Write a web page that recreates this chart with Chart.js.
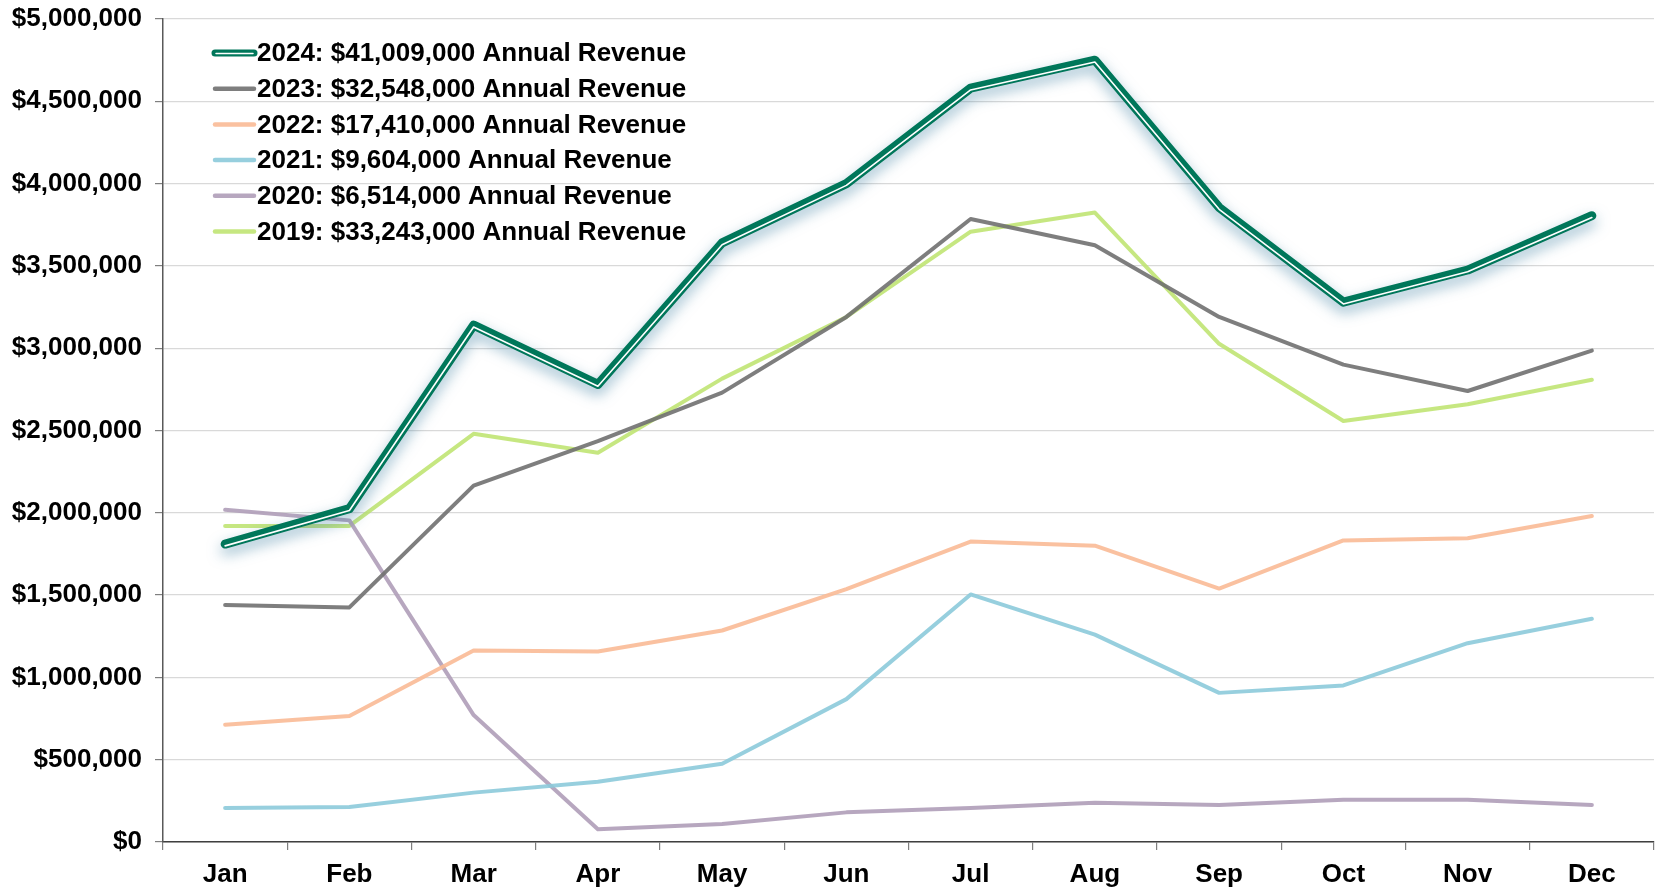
<!DOCTYPE html>
<html>
<head>
<meta charset="utf-8">
<script src="https://cdn.jsdelivr.net/npm/chart.js@4/dist/chart.umd.min.js"></script>
<style>
html,body{margin:0;padding:0;background:#fff;}
#wrap{width:1659px;height:888px;position:relative;}
</style>
</head>
<body>
<div id="wrap"><canvas id="c"></canvas></div>
<script>
const months = ['Jan','Feb','Mar','Apr','May','Jun','Jul','Aug','Sep','Oct','Nov','Dec'];
const seriesLabels = [
  '2024: $41,009,000 Annual Revenue',
  '2023: $32,548,000 Annual Revenue',
  '2022: $17,410,000 Annual Revenue',
  '2021: $9,604,000 Annual Revenue',
  '2020: $6,514,000 Annual Revenue',
  '2019: $33,243,000 Annual Revenue'
];
const rev2024 = [1810000, 2025000, 3140000, 2780000, 3640000, 4000000, 4580000, 4750000, 3855000, 3280000, 3475000, 3805000];
const rev2023 = [1440000, 1425000, 2165000, 2435000, 2730000, 3190000, 3785000, 3625000, 3190000, 2900000, 2740000, 2985000];
const rev2022 = [713000, 765000, 1163000, 1157000, 1285000, 1536000, 1825000, 1800000, 1540000, 1832000, 1845000, 1980000];
const rev2021 = [206000, 212000, 300000, 366000, 476000, 868000, 1504000, 1260000, 906000, 951000, 1208000, 1356000];
const rev2020 = [2018000, 1954000, 771000, 77000, 109000, 180000, 206000, 238000, 225000, 257000, 257000, 225000];
const rev2019 = [1920000, 1920000, 2480000, 2365000, 2815000, 3190000, 3708000, 3824000, 3027000, 2558000, 2660000, 2808000];
const yTicks = [0, 500000, 1000000, 1500000, 2000000, 2500000, 3000000, 3500000, 4000000, 4500000, 5000000];

const colors = ['#00775a', 'rgba(112,112,112,0.9)', 'rgba(250,186,150,0.9)', 'rgba(140,202,218,0.9)', 'rgba(175,157,184,0.9)', 'rgba(190,228,112,0.88)'];
const FONT = 'Liberation Sans, Arial, sans-serif';

function mk(label, data, color, width, extra) {
  return Object.assign({
    label: label, data: data, borderColor: color, backgroundColor: color,
    borderWidth: width, pointRadius: 0, pointHoverRadius: 0, tension: 0,
    borderJoinStyle: 'round', borderCapStyle: 'round', fill: false
  }, extra || {});
}

const datasets = [
  mk(seriesLabels[0], rev2024, colors[0], 9, {order: 0}),
  mk(seriesLabels[1], rev2023, colors[1], 4, {order: 1}),
  mk(seriesLabels[2], rev2022, colors[2], 4, {order: 2}),
  mk(seriesLabels[3], rev2021, colors[3], 4, {order: 3}),
  mk(seriesLabels[4], rev2020, colors[4], 4, {order: 4}),
  mk(seriesLabels[5], rev2019, colors[5], 4, {order: 5}),
  mk('', rev2024, '#ffffff', 1.6, {order: -1, isInner: true})
];

const effects = {
  id: 'effects',
  beforeDatasetDraw(chart, args) {
    const ctx = chart.ctx;
    const ds = chart.data.datasets[args.index];
    ctx.save();
    if (args.index === 0) {
      ctx.shadowColor = 'rgba(60,125,160,0.55)';
      ctx.shadowBlur = 14;
      ctx.shadowOffsetX = 0;
      ctx.shadowOffsetY = 6;
    } else if (ds.isInner) {
      ctx.translate(0, 1.8);
    }
  },
  afterDatasetDraw(chart) {
    chart.ctx.restore();
  }
};

const legendPlugin = {
  id: 'customLegend',
  afterDatasetsDraw(chart) {
    const ctx = chart.ctx;
    const x0 = 215, x1 = 254, tx = 257, y0 = 53, step = 35.7;
    ctx.save();
    ctx.font = 'bold 26px ' + FONT;
    ctx.textBaseline = 'middle';
    ctx.textAlign = 'left';
    chart.data.datasets.forEach((ds, i) => {
      if (ds.isInner) return;
      const y = y0 + i * step;
      ctx.lineCap = 'round';
      ctx.beginPath();
      ctx.moveTo(x0, y); ctx.lineTo(x1, y);
      ctx.strokeStyle = ds.borderColor;
      ctx.lineWidth = i === 0 ? 7 : 4.5;
      ctx.stroke();
      if (i === 0) {
        ctx.beginPath();
        ctx.moveTo(x0 + 1, y + 0.5); ctx.lineTo(x1 - 1, y + 0.5);
        ctx.strokeStyle = '#ffffff';
        ctx.lineWidth = 1.5;
        ctx.stroke();
      }
      ctx.fillStyle = '#000000';
      ctx.fillText(ds.label, tx, y + 1);
    });
    ctx.restore();
  }
};

new Chart(document.getElementById('c'), {
  type: 'line',
  data: { labels: months, datasets: datasets },
  plugins: [effects, legendPlugin],
  options: {
    responsive: true,
    maintainAspectRatio: false,
    animation: false,
    layout: { padding: { top: 19, right: 5, left: 0, bottom: 0 } },
    plugins: { legend: { display: false }, tooltip: { enabled: false } },
    scales: {
      x: {
        offset: true,
        grid: { offset: true, drawOnChartArea: false, drawTicks: true, tickLength: 8, color: '#7f7f7f', lineWidth: 1.2 },
        border: { display: true, color: '#3f3f3f', width: 1.5 },
        ticks: { color: '#000', padding: 9, font: { family: FONT, size: 26, weight: 'bold' } },
        afterFit(s) { s.height = 46; s.paddingLeft = 0; s.paddingRight = 0; }
      },
      y: {
        min: 0, max: 5000000,
        afterBuildTicks(s) { s.ticks = yTicks.map(v => ({ value: v })); },
        grid: { color: '#d9d9d9', lineWidth: 1.2, tickLength: 8, tickColor: '#7f7f7f' },
        border: { display: true, color: '#595959', width: 1.5 },
        ticks: {
          color: '#000', padding: 13,
          font: { family: FONT, size: 26, weight: 'bold' },
          callback: v => '$' + Number(v).toLocaleString('en-US')
        },
        afterFit(s) { s.width = 163; s.paddingTop = 0; s.paddingBottom = 0; }
      }
    }
  }
});
</script>
</body>
</html>
